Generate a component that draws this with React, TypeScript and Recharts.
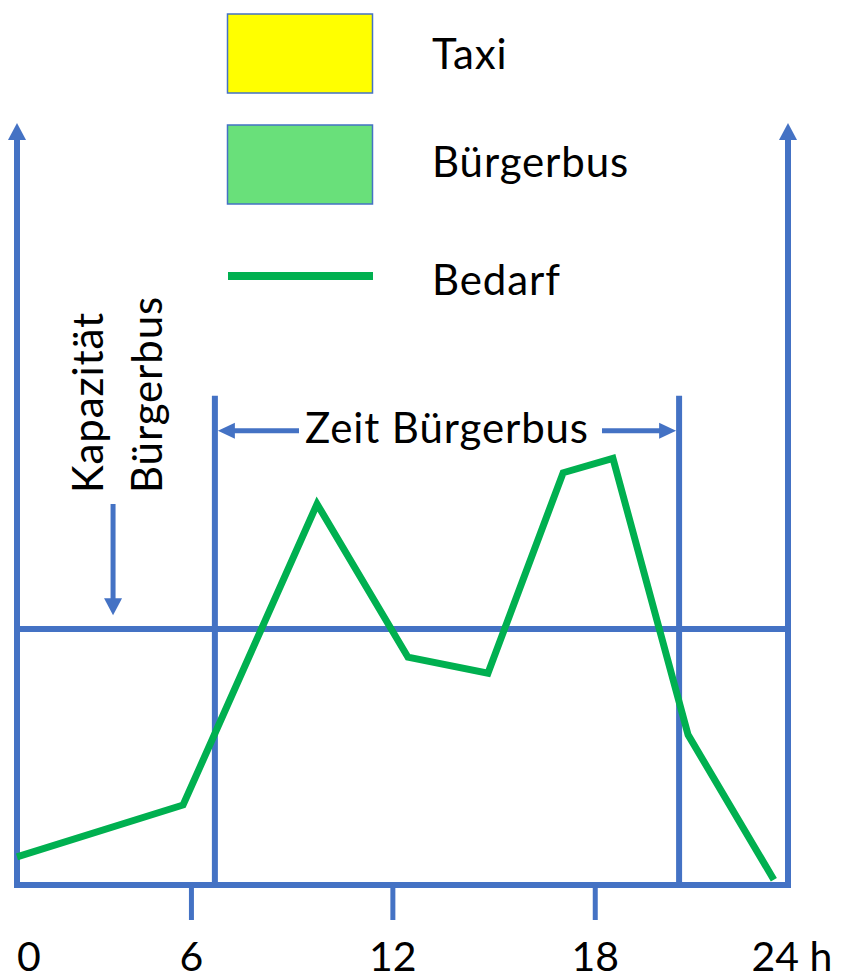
import { LineChart, Line, XAxis, YAxis, ReferenceLine, Legend } from 'recharts';

const BLUE = '#4472C4';
const GREEN = '#00B050';
const FONT = 'Lato, "Open Sans", sans-serif';

// Bedarf curve, hour of day vs. demand (0..100, top of the axis arrows)
const HOURS = [0, 5.17, 9.34, 12.17, 14.66, 17.0, 18.55, 20.89, 23.56];
const BEDARF = [3.7, 10.5, 50.0, 29.9, 27.8, 54.1, 56.0, 19.7, 0.7];

// tick marks sit where the sketch puts them, not exactly on the hour
const TICK_HOURS = [0, 5.43, 11.7, 18, 24];
const TICK_LABELS = ['0', '6', '12', '18', '24 h'];

const CAPACITY = 33.6;
const ZEIT_START = 6.16;
const ZEIT_END = 20.61;
const ZEIT_TOP = 64.2;
const ZEIT_ARROW_Y = 59.6;
const CAP_ARROW_HOUR = 2.99;
const CAP_ARROW_FROM = 50.0;
const CAP_ARROW_TO = 35.4;

const LEGEND_ITEMS = [
  { label: 'Taxi', kind: 'box', fill: '#FFFF00' },
  { label: 'Bürgerbus', kind: 'box', fill: '#69E07A' },
  { label: 'Bedarf', kind: 'line', fill: GREEN },
];

const data = HOURS.map((hour, i) => ({ hour, bedarf: BEDARF[i] }));

const textStyle = { fontFamily: FONT, fontSize: 42, fill: '#000', letterSpacing: 0.9 };

// vertical line with an arrow head at the (x2, y2) end
const ArrowUp = (props: any) => {
  const { x1, y1, x2, y2 } = props;
  return (
    <g>
      <line x1={x1} y1={y1 + 3} x2={x2} y2={y2 + 16} stroke={BLUE} strokeWidth={6} />
      <polygon points={`${x2},${y2} ${x2 - 9},${y2 + 17} ${x2 + 9},${y2 + 17}`} fill={BLUE} />
    </g>
  );
};

const CapacityArrow = (props: any) => {
  const { x1, y1, x2, y2 } = props;
  const top = Math.min(y1, y2);
  const tip = Math.max(y1, y2);
  return (
    <g>
      <line x1={x1} y1={top} x2={x2} y2={tip - 15} stroke={BLUE} strokeWidth={5} />
      <polygon points={`${x2},${tip} ${x2 - 9},${tip - 17} ${x2 + 9},${tip - 17}`} fill={BLUE} />
      <text transform={`translate(${x1 - 10},${top - 11}) rotate(-90)`} style={textStyle}>
        Kapazität
      </text>
      <text transform={`translate(${x1 + 49},${top - 11}) rotate(-90)`} style={textStyle}>
        Bürgerbus
      </text>
    </g>
  );
};

const ZeitArrow = (props: any) => {
  const { x1, y1, x2 } = props;
  const left = x1 + 3;
  const right = x2 - 3;
  const cx = (left + right) / 2;
  return (
    <g>
      <line x1={left + 14} y1={y1} x2={cx - 148} y2={y1} stroke={BLUE} strokeWidth={5} />
      <polygon points={`${left},${y1} ${left + 17},${y1 - 8} ${left + 17},${y1 + 8}`} fill={BLUE} />
      <line x1={cx + 155} y1={y1} x2={right - 14} y2={y1} stroke={BLUE} strokeWidth={5} />
      <polygon points={`${right},${y1} ${right - 17},${y1 - 8} ${right - 17},${y1 + 8}`} fill={BLUE} />
      <text x={cx} y={y1 + 12} textAnchor="middle" style={textStyle}>
        Zeit Bürgerbus
      </text>
    </g>
  );
};

const HourTick = (props: any) => {
  const { x, y, index } = props;
  const last = TICK_LABELS.length - 1;
  const inner = index > 0 && index < last;
  return (
    <g>
      {inner && <line x1={x} y1={y} x2={x} y2={y + 35} stroke={BLUE} strokeWidth={5} />}
      <text
        x={index === last ? x + 4 : x}
        y={y + 86}
        textAnchor={index === 0 ? 'start' : 'middle'}
        fontFamily={FONT}
        fontSize={41}
        fill="#000"
      >
        {TICK_LABELS[index]}
      </text>
    </g>
  );
};

const LegendBlock = () => (
  <svg width={846} height={310} style={{ display: 'block' }}>
    {LEGEND_ITEMS.map((item, i) => {
      const top = 14 + i * 111;
      return (
        <g key={item.label}>
          {item.kind === 'box' ? (
            <rect x={227.5} y={top} width={145} height={79} fill={item.fill} stroke={BLUE} strokeWidth={1.5} />
          ) : (
            <line x1={228} y1={276} x2={373} y2={276} stroke={item.fill} strokeWidth={8} />
          )}
          <text x={432} y={[69, 177, 295][i]} style={textStyle}>
            {item.label}
          </text>
        </g>
      );
    })}
  </svg>
);

export default function App() {
  return (
    <div style={{ position: 'absolute', left: 0, top: 0, background: '#fff' }}>
      <LineChart width={846} height={980} data={data} margin={{ top: 123, right: 58, bottom: 5, left: 17 }}>
        <XAxis
          dataKey="hour"
          type="number"
          domain={[0, 24]}
          ticks={TICK_HOURS}
          interval={0}
          height={90}
          tickSize={0}
          tickMargin={0}
          tickLine={false}
          axisLine={{ stroke: BLUE, strokeWidth: 6 }}
          tick={<HourTick />}
        />
        <YAxis hide type="number" domain={[0, 100]} />
        <Legend
          layout="vertical"
          verticalAlign="middle"
          align="center"
          content={() => <LegendBlock />}
          wrapperStyle={{ position: 'absolute', top: 0, left: 0, width: 846, height: 310, margin: 0 }}
        />
        <ReferenceLine
          segment={[{ x: 0, y: 0 }, { x: 0, y: 100 }]}
          shape={(p: any) => <ArrowUp {...p} />}
        />
        <ReferenceLine
          segment={[{ x: 24, y: 0 }, { x: 24, y: 100 }]}
          shape={(p: any) => <ArrowUp {...p} />}
        />
        <ReferenceLine y={CAPACITY} stroke={BLUE} strokeWidth={6} />
        <ReferenceLine
          segment={[{ x: ZEIT_START, y: 0 }, { x: ZEIT_START, y: ZEIT_TOP }]}
          stroke={BLUE}
          strokeWidth={6}
        />
        <ReferenceLine
          segment={[{ x: ZEIT_END, y: 0 }, { x: ZEIT_END, y: ZEIT_TOP }]}
          stroke={BLUE}
          strokeWidth={6}
        />
        <ReferenceLine
          segment={[{ x: ZEIT_START, y: ZEIT_ARROW_Y }, { x: ZEIT_END, y: ZEIT_ARROW_Y }]}
          shape={(p: any) => <ZeitArrow {...p} />}
        />
        <ReferenceLine
          segment={[{ x: CAP_ARROW_HOUR, y: CAP_ARROW_FROM }, { x: CAP_ARROW_HOUR, y: CAP_ARROW_TO }]}
          shape={(p: any) => <CapacityArrow {...p} />}
        />
        <Line
          type="linear"
          dataKey="bedarf"
          stroke={GREEN}
          strokeWidth={7}
          dot={false}
          activeDot={false}
          isAnimationActive={false}
        />
      </LineChart>
    </div>
  );
}
